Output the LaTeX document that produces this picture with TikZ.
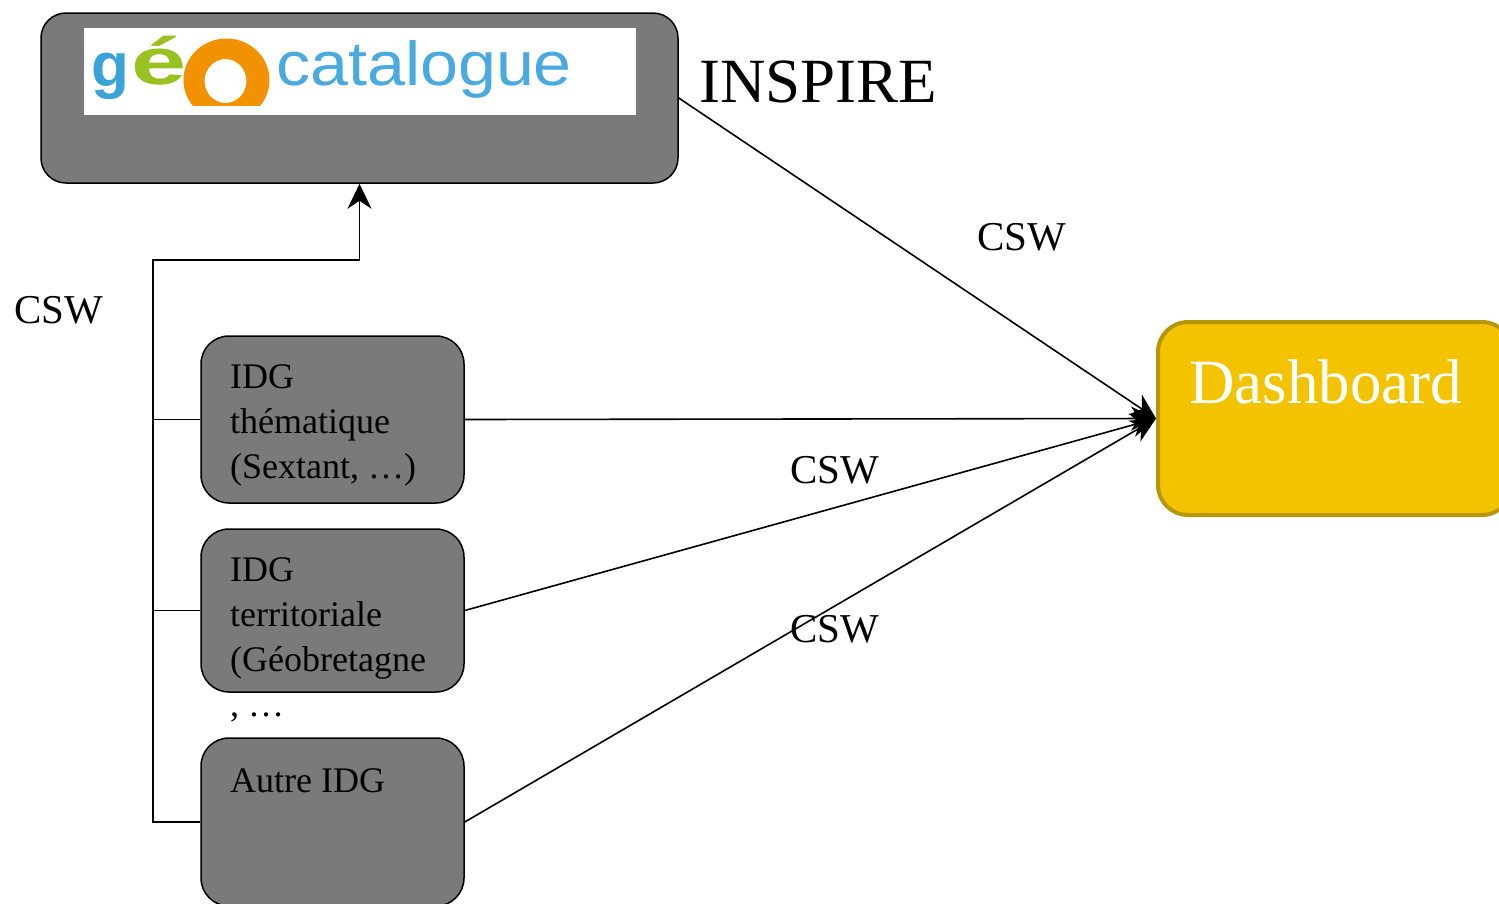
\documentclass[tikz,border=0pt]{standalone}
\usepackage{fontspec}
\setmainfont{Liberation Serif}
\newfontfamily\logofont{Liberation Sans}
\usetikzlibrary{arrows.meta}
\definecolor{boxgray}{RGB}{122,122,122}
\definecolor{dashfill}{RGB}{243,195,0}
\definecolor{dashborder}{RGB}{184,150,10}
\definecolor{logoblue}{RGB}{58,163,217}
\definecolor{logogreen}{RGB}{152,194,31}
\definecolor{logoorange}{RGB}{243,146,0}
\definecolor{logolight}{RGB}{72,170,222}
\tikzset{
  graybox/.style={draw=black, line width=1.5pt, fill=boxgray, rounded corners=28pt, inner sep=0pt},
  dashbox/.style={draw=dashborder, line width=4pt, fill=dashfill, rounded corners=30pt, inner sep=0pt},
  boxtext/.style={inner sep=0pt, align=left, font=\fontsize{36}{45}\selectfont},
  csw/.style={inner sep=0pt, anchor=base west, font=\fontsize{41}{49}\selectfont},
  bigtext/.style={inner sep=0pt, anchor=base west, font=\fontsize{63}{75}\selectfont},
  conn/.style={draw=black, line width=1.6pt},
  arr/.style={conn, -{Stealth[length=25pt, width=24pt, inset=8pt]}}
}
\begin{document}
\begin{tikzpicture}[x=1pt, y=-1pt]
\useasboundingbox (0,0) rectangle (1499,903);
\clip (0,0) rectangle (1499,903);
% top box with logo
\node[graybox, rounded corners=25pt, minimum width=637pt, minimum height=170pt] (top) at (359.5,98) {};
\node[fill=white, inner sep=0pt, minimum width=552pt, minimum height=87pt] (logo) at (360,71.5) {};
\node[inner sep=0pt, anchor=base west, text=logoblue, font=\logofont\bfseries\fontsize{62}{70}\selectfont] (lg) at (91,86) {g};
\node[inner sep=0pt, anchor=base west, text=logogreen, font=\logofont\bfseries\fontsize{66}{74}\selectfont] (le) at (131,84) {\scalebox{1.5}[1]{é}};
\begin{scope}
\clip (84,28) rectangle (636,105);
\fill[logoorange, even odd rule] (226.5,80) ellipse [x radius=43, y radius=41.5] (225.5,81) ellipse [x radius=21, y radius=22];
\end{scope}
\node[inner sep=0pt, anchor=base west, text=logolight, font=\logofont\fontsize{62}{70}\selectfont] (lc) at (276,85) {\scalebox{1.1}[1]{catalogue}};
\node[bigtext] (inspire) at (699,102) {INSPIRE};
% IDG boxes
\node[graybox, minimum width=263pt, minimum height=167pt] (b1) at (332.5,419.5) {};
\node[graybox, minimum width=263pt, minimum height=163pt] (b2) at (332.5,610.5) {};
\node[graybox, minimum width=263pt, minimum height=168pt] (b3) at (332.5,822) {};
\node[boxtext, anchor=north west] (t1) at (230,356.5) {\strut IDG\\thématique\\(Sextant, …)};
\node[boxtext, anchor=north west] (t2) at (230,549.5) {\strut IDG\\territoriale\\(Géobretagne\\, …};
\node[boxtext, anchor=base west] (t3) at (230,792) {Autre IDG};
% dashboard
\node[dashbox, minimum width=354pt, minimum height=193pt] (dash) at (1335,418.5) {};
\node[bigtext, text=white] (dtext) at (1189,403) {Dashboard};
% connectors
\coordinate (j) at (153,260);
\draw[conn] (b1.west) -| (j);
\draw[conn] (b2.west) -| (j);
\draw[arr] (b3.west) -| (j) -| (top.south);
\draw[arr] (top.east) -- (dash.west);
\draw[arr] (b1.east) -- (dash.west);
\draw[arr] (b2.east) -- (dash.west);
\draw[arr] (b3.east) -- (dash.west);
% labels
\node[csw] (c1) at (977,250) {CSW};
\node[csw] (c2) at (14,323) {CSW};
\node[csw] (c3) at (790,483) {CSW};
\node[csw] (c4) at (790,642) {CSW};
\end{tikzpicture}
\end{document}
